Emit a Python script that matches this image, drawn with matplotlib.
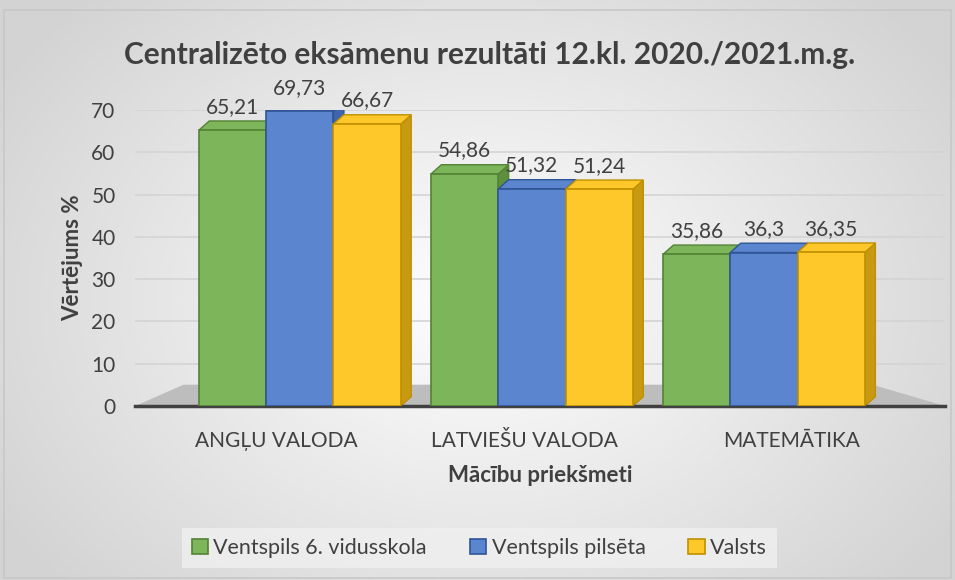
import numpy as np
import matplotlib.pyplot as plt
from matplotlib.patches import Rectangle, Polygon

plt.rcParams['font.family'] = ['Lato', 'DejaVu Sans']

categories = ['ANGĻU VALODA', 'LATVIEŠU VALODA', 'MATEMĀTIKA']
series_names = ['Ventspils 6. vidusskola', 'Ventspils pilsēta', 'Valsts']
school = [65.21, 54.86, 35.86]
city = [69.73, 51.32, 36.3]
country = [66.67, 51.24, 36.35]
labels_school = ['65,21', '54,86', '35,86']
labels_city = ['69,73', '51,32', '36,3']
labels_country = ['66,67', '51,24', '36,35']

faces = ['#7db65a', '#5b86cf', '#ffc82a']
sides = ['#5e8f3e', '#3f66ad', '#c79a12']
edges = ['#548235', '#2f5597', '#bf9000']

fig = plt.figure(figsize=(9.55, 5.8), dpi=100)

# radial gradient background
bg = fig.add_axes([0, 0, 1, 1], zorder=-5)
yy, xx = np.mgrid[0:580, 0:955]
r = np.sqrt(((xx - 480) / 560.0) ** 2 + ((yy - 300) / 420.0) ** 2)
shade = 1.0 - 0.17 * np.clip(r, 0, 1)
bg.imshow(np.dstack([shade, shade, shade]), aspect='auto', extent=[0, 1, 0, 1])
bg.add_patch(Rectangle((0.004, 0.003), 0.992, 0.98, fill=False, ec='#c8c8c8', lw=1.2))
bg.set_xlim(0, 1)
bg.set_ylim(0, 1)
bg.axis('off')

ax = fig.add_axes([135 / 955, (580 - 406) / 580, 810 / 955, 296 / 580])
ax.patch.set_alpha(0)
ax.set_ylim(0, 70)
ax.set_xlim(-0.71, 2.78)

# floor
floor = Polygon([[0.0, 0.0], [0.06, 0.072], [0.91, 0.072], [1.0, 0.0]],
                closed=True, transform=ax.transAxes, fc='#bdbdbd', ec='none', zorder=1)
ax.add_patch(floor)

ax.yaxis.grid(True, color='#d4d4d4', lw=1.2, zorder=0)
ax.set_axisbelow(True)

x = np.arange(len(categories))
w = 0.29
dx, dy = 0.045, 2.2
all_vals = [school, city, country]
all_labels = [labels_school, labels_city, labels_country]
for i, vals in enumerate(all_vals):
    pos = x + (i - 1) * w
    ax.bar(pos, vals, w, color=faces[i], edgecolor=edges[i], lw=1.2, zorder=3)
    for p, v, lab in zip(pos, vals, all_labels[i]):
        right = p + w / 2
        ax.add_patch(Polygon([[right, 0], [right + dx, dy], [right + dx, v + dy], [right, v]],
                             fc=sides[i], ec=edges[i], lw=1.0, zorder=2))
        ax.add_patch(Polygon([[p - w / 2, v], [p - w / 2 + dx, v + dy], [right + dx, v + dy], [right, v]],
                             fc=faces[i], ec=edges[i], lw=1.0, zorder=2))
        ax.text(p, v + dy + 1.0, lab, ha='center', va='bottom', fontsize=15, color='#404040')

# category labels sit a bit off the group centres, as in the perspective view
ax.set_xticks(x + np.array([-0.1, -0.03, 0.12]))
ax.set_xticklabels(categories, fontsize=15, color='#404040')
ax.set_yticks(np.arange(0, 71, 10))
ax.tick_params(axis='y', labelsize=15, labelcolor='#404040', length=0, pad=14)
ax.tick_params(axis='x', length=0, pad=18)
for s in ['top', 'right', 'left']:
    ax.spines[s].set_visible(False)
ax.spines['bottom'].set_color('#404040')
ax.spines['bottom'].set_linewidth(2.5)

ax.set_xlabel('Mācību priekšmeti', fontsize=16, fontweight='bold', color='#404040', labelpad=10)
ax.set_ylabel('Vērtējums %', fontsize=16, fontweight='bold', color='#404040', labelpad=6)

fig.text(0.513, 0.905, 'Centralizēto eksāmenu rezultāti 12.kl. 2020./2021.m.g.',
         ha='center', va='center', fontsize=21.5, fontweight='bold', color='#404040')

handles = [Rectangle((0, 0), 1, 1, fc=faces[i], ec=edges[i], lw=1.2) for i in range(3)]
leg = fig.legend(handles, series_names, loc='center', bbox_to_anchor=(0.502, 0.055), ncol=3,
                 fontsize=15.5, frameon=True, fancybox=False, facecolor='#f0f0f0', edgecolor='none',
                 handlelength=0.75, handleheight=0.75, handletextpad=0.25, columnspacing=2.0,
                 borderpad=0.45)
for t in leg.get_texts():
    t.set_color('#404040')

fig.savefig('out.png', dpi=100)
